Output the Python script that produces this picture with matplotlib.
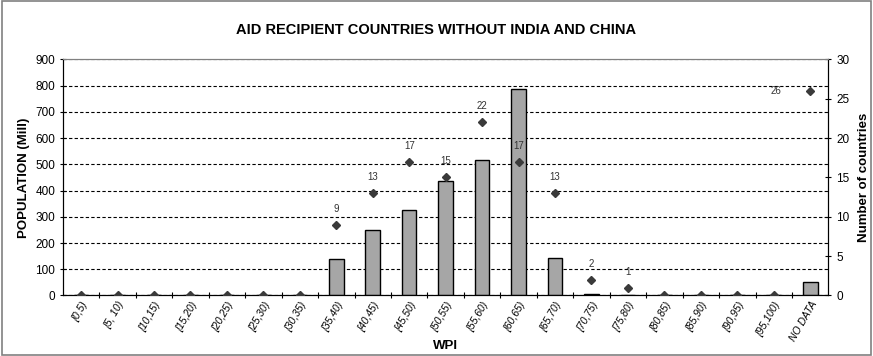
import matplotlib.pyplot as plt
from matplotlib.patches import Rectangle

plt.rcParams['font.family'] = ['Liberation Sans', 'DejaVu Sans']

categories = ['[0,5)', '[5, 10)', '[10,15)', '[15,20)', '[20,25)', '[25,30)', '[30,35)',
              '[35,40)', '[40,45)', '[45,50)', '[50,55)', '[55,60)', '[60,65)', '[65,70)',
              '[70,75)', '[75,80)', '[80,85)', '[85,90)', '[90,95)', '[95,100)', 'NO DATA']
population = [0, 0, 0, 0, 0, 0, 0, 138, 250, 325, 437, 517, 787, 142, 4, 0, 0, 0, 0, 0, 50]
countries = [0, 0, 0, 0, 0, 0, 0, 9, 13, 17, 15, 22, 17, 13, 2, 1, 0, 0, 0, 0, 26]

fig = plt.figure(figsize=(8.73, 3.56), dpi=100)
ax = fig.add_axes([0.072, 0.17, 0.877, 0.663])
x = list(range(len(categories)))

ax.bar(x, population, width=0.4, color='#a6a6a6', edgecolor='black', linewidth=1.0, zorder=3)
ax.set_ylim(0, 900)
ax.set_xlim(-0.5, len(categories) - 0.5)
ax.set_yticks(range(0, 901, 100))
ax.yaxis.grid(True, linestyle=(0, (3, 2)), color='black', linewidth=0.8, zorder=0)
ax.set_axisbelow(True)
ax.set_xticks([i + 0.5 for i in x[:-1]], minor=False)
ax.set_xticklabels([])
ax.set_xticks(x, minor=True)
ax.set_xticklabels(categories, minor=True, rotation=60, ha='right', rotation_mode='anchor',
                   fontsize=7.5, style='italic')
ax.tick_params(axis='x', which='minor', length=0, pad=3)
ax.tick_params(axis='x', which='major', length=4, direction='inout')
ax.tick_params(axis='y', labelsize=8.5, length=4, direction='inout')
ax.set_ylabel('POPULATION (Mill)', fontsize=9.5, fontweight='bold', labelpad=4)
ax.set_xlabel('WPI', fontsize=9.5, fontweight='bold')
ax.xaxis.set_label_coords(0.5, -0.19)
ax.spines['top'].set_color('#808080')

ax2 = ax.twinx()
ax2.plot(x, countries, linestyle='none', marker='D', markersize=4.5, color='#3a3a3a', zorder=4)
ax2.set_ylim(0, 30)
ax2.set_yticks(range(0, 31, 5))
ax2.tick_params(axis='y', labelsize=8.5, length=4, direction='inout')
ax2.set_ylabel('Number of countries', fontsize=9.5, fontweight='bold', labelpad=6)
ax2.spines['top'].set_color('#808080')
for i, c in enumerate(countries):
    if c > 0:
        if categories[i] == 'NO DATA':
            ax2.annotate(str(c), (i, c), xytext=(-25, 0), textcoords='offset points',
                         fontsize=7, ha='center', va='center', color='#333333')
        else:
            ax2.annotate(str(c), (i, c), xytext=(0, 8), textcoords='offset points',
                         fontsize=7, ha='center', va='bottom', color='#333333')

fig.suptitle('AID RECIPIENT COUNTRIES WITHOUT INDIA AND CHINA', fontsize=10.5,
             fontweight='bold', y=0.935)
fig.patches.append(Rectangle((0.002, 0.003), 0.996, 0.994, transform=fig.transFigure,
                             fill=False, edgecolor='#808080', linewidth=1.2))
fig.savefig('out.png', dpi=100)
